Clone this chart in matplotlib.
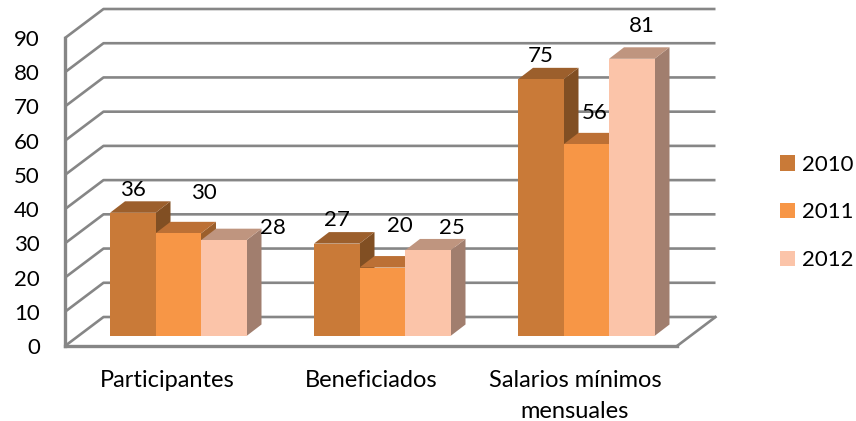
import matplotlib
matplotlib.use('Agg')
import matplotlib.pyplot as plt
from matplotlib.patches import Polygon, Patch

categories = ['Participantes', 'Beneficiados', 'Salarios mínimos\nmensuales']
years = ['2010', '2011', '2012']
values_2010 = [36, 27, 75]
values_2011 = [30, 20, 56]
values_2012 = [28, 25, 81]
y_ticks = [0, 10, 20, 30, 40, 50, 60, 70, 80, 90]

# front, top and side colour of each series
colors_2010 = ['#C97A38', '#9C5F2C', '#814F23']
colors_2011 = ['#F79646', '#BC7035', '#9B5F2C']
colors_2012 = ['#FBC4A9', '#BF957F', '#A17E6E']
grid_color = '#868686'

plt.rcParams['font.family'] = ['Lato', 'DejaVu Sans']
W, H = 856, 421
fig = plt.figure(figsize=(W / 100, H / 100), dpi=100)
ax = fig.add_axes([65 / W, 1 - 346 / H, 612 / W, 308 / H])
ax.set_xlim(0, 3)
ax.set_ylim(0, 90)

# px to data units
ux = 3 / 612
uy = 90 / 308
wall_dx, wall_dy = 38.5 * ux, 29 * uy
bar_off_x, bar_off_y = 45 * ux, 10 * uy
bar_w = 45.5 * ux
depth_x, depth_y = 15 * ux, 11.5 * uy

# walls and grid
for t in y_ticks:
    ax.plot([0, wall_dx, 3 + wall_dx], [t, t + wall_dy, t + wall_dy],
            color=grid_color, lw=1.9, clip_on=False, zorder=1, solid_capstyle='butt')
ax.plot([3, 3 + wall_dx], [0, wall_dy], color=grid_color, lw=1.9, clip_on=False, zorder=1)

# bars, drawn left to right so each one hides the side of the one before
series = [(values_2010, colors_2010), (values_2011, colors_2011), (values_2012, colors_2012)]
z = 3
bar_tops = []
for i in range(len(categories)):
    for j, (vals, cols) in enumerate(series):
        x0 = i + bar_off_x + j * bar_w
        x1 = x0 + bar_w
        y0 = bar_off_y
        y1 = y0 + vals[i]
        side = [(x1, y0), (x1 + depth_x, y0 + depth_y), (x1 + depth_x, y1 + depth_y), (x1, y1)]
        top = [(x0, y1), (x0 + depth_x, y1 + depth_y), (x1 + depth_x, y1 + depth_y), (x1, y1)]
        front = [(x0, y0), (x1, y0), (x1, y1), (x0, y1)]
        ax.add_patch(Polygon(side, fc=cols[2], ec='none', clip_on=False, zorder=z))
        ax.add_patch(Polygon(top, fc=cols[1], ec='none', clip_on=False, zorder=z))
        ax.add_patch(Polygon(front, fc=cols[0], ec='none', clip_on=False, zorder=z))
        z += 1
        bar_tops.append(((x0 + x1) / 2, y1, vals[i]))

# labels were moved by hand in the original, offsets in px from bar top
label_offsets = [(0, 23), (25.5, 40), (49, 12),
                 (0, 24), (17.5, 42), (24, 22.5),
                 (0, 23.5), (8.5, 31.5), (10, 33)]
for k in range(len(bar_tops)):
    bx, by, v = bar_tops[k]
    ax.annotate(str(v), (bx, by), xytext=label_offsets[k], textcoords='offset pixels',
                ha='center', va='center', fontsize=16, color='black', zorder=50,
                annotation_clip=False)

ax.set_xticks([0.5, 1.5, 2.5])
ax.set_xticklabels(categories, fontsize=17, linespacing=1.62)
ax.set_yticks(y_ticks)
ax.tick_params(axis='x', length=0, pad=17)
ax.tick_params(axis='y', length=0, pad=18, labelsize=16)
ax.patch.set_visible(False)
for s in ['top', 'right']:
    ax.spines[s].set_visible(False)
for s in ['left', 'bottom']:
    ax.spines[s].set_color(grid_color)
    ax.spines[s].set_linewidth(2.4)
    ax.spines[s].set_zorder(2)

handles = [Patch(fc=colors_2010[0]), Patch(fc=colors_2011[0]), Patch(fc=colors_2012[0])]
fig.legend(handles, years, loc='center left', bbox_to_anchor=(780 / W, 1 - 212.5 / H),
           frameon=False, fontsize=16, handlelength=0.68, handleheight=0.68,
           handletextpad=0.32, labelspacing=1.25, borderpad=0, borderaxespad=0)

fig.savefig('out.png', dpi=100)
